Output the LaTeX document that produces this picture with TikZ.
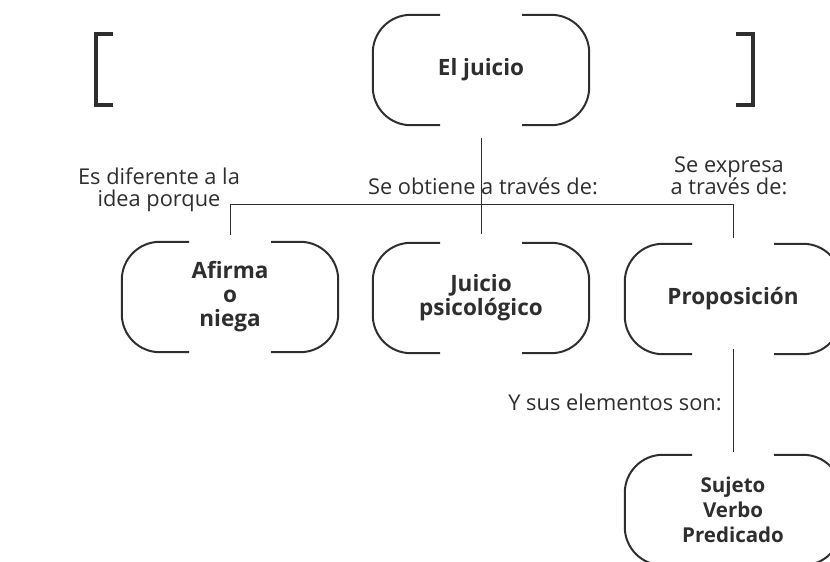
\documentclass[tikz,border=0pt]{standalone}
\usepackage{fontspec}
\setmainfont{Open Sans}
\usetikzlibrary{positioning}
\definecolor{ink}{HTML}{2E2E2E}
\tikzset{
  concept/.style={minimum width=216pt, minimum height=110pt, inner sep=0pt, align=center,
    font=\bfseries\fontsize{22.5}{24}\selectfont, text=ink},
  gapline/.style={draw=ink, line width=2pt, rounded corners=38pt},
  link/.style={draw=ink, line width=1pt},
  note/.style={align=center, font=\fontsize{21.8}{22}\selectfont, text=ink, inner sep=0pt},
}
\newcommand{\gapframe}[1]{%
  \draw[gapline] ([xshift=-41pt]#1.north) -- (#1.north west) -- (#1.south west) -- ([xshift=-41pt]#1.south);
  \draw[gapline] ([xshift=41pt]#1.north) -- (#1.north east) -- (#1.south east) -- ([xshift=41pt]#1.south);}

\begin{document}
\begin{tikzpicture}[x=1pt,y=-1pt]
\clip (0,0) rectangle (830,562);
% brackets
\draw [ink, line width=4pt] (113,34) -- (96,34) -- (96,105) -- (113,105);
\draw [ink, line width=4pt] (736,34) -- (753,34) -- (753,105) -- (736,105);
% concepts
\node[concept] (juicio) at (481,70) {El juicio};
\node[concept] (afirma) at (230,297) {Afirma\\o\\niega};
\node[concept] (psico) at (481,298) {Juicio\\psicológico};
\node[concept] (prop) at (733,299) {Proposición};
\node[concept, font=\bfseries\fontsize{20.5}{25}\selectfont] (sujeto) at (733,510) {Sujeto\\Verbo\\Predicado};
\gapframe{juicio}
\gapframe{afirma}
\gapframe{psico}
\gapframe{prop}
\gapframe{sujeto}
% links
\coordinate (bar) at (0,204);
\draw [link, shorten <=13pt, shorten >=9pt] (juicio) -- (psico);
\draw [link] ([yshift=7pt]afirma.north) |- (prop.north |- bar) -- ([yshift=6pt]prop.north);
\draw [link] ([yshift=5pt]prop.south) -- ([yshift=3pt]sujeto.north);
% labels
\node[note] (difiere) at (159,190) {Es diferente a la\\idea porque};
\node[note] (obtiene) at (483,186) {Se obtiene a través de:};
\node[note] (expresa) at (729,176) {Se expresa\\a través de:};
\node[note] (elementos) at (615,402) {Y sus elementos son:};
\end{tikzpicture}
\end{document}
